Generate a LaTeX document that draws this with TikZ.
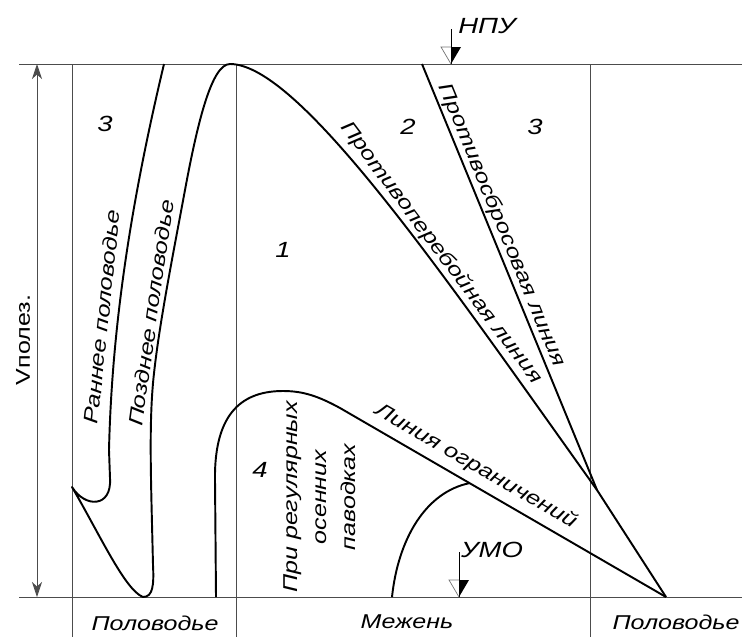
\documentclass[tikz,border=0pt]{standalone}
\usepackage{fontspec}
\setmainfont{Liberation Sans}[FakeStretch=1.25]
\usepackage{tikz}
\usetikzlibrary{arrows.meta}
\tikzset{
  frameline/.style = {draw=black!70, line width=0.5pt},
  curveline/.style = {draw=black, line width=1.1pt, line join=round},
  txt/.style = {font=\fontsize{11.4}{16.4}\selectfont\itshape, inner sep=1pt},
  zone/.style = {font=\fontsize{12.5}{14}\selectfont\itshape},
  leveltxt/.style = {font=\fontsize{12.5}{14}\selectfont\itshape},
  dimarrow/.style = {{Stealth[length=3mm, width=2mm, inset=0.9mm]}-{Stealth[length=3mm, width=2mm, inset=0.9mm]},
    draw=black!70, line width=0.5pt},
  levelmark/.style = {draw=black!55, line width=0.4pt}
}
\begin{document}
\begin{tikzpicture}[x=0.2mm, y=-0.2mm]
  \useasboundingbox (0,0) rectangle (742,637);

  % Frame
  \draw[frameline] (19,64) -- (742,64) (19,597) -- (742,597);
  \foreach \xv in {72,236,590}
    \draw[frameline] (\xv,64) -- (\xv,637);

  % Points
  \coordinate (top)  at (230,64);
  \coordinate (join) at (597,490);
  \coordinate (foot) at (666,597);

  % Flood curves
  \draw[curveline] (164,64) .. controls (133,194) and (112,320) .. (109,450)
    -- (110,478) .. controls (112,508) and (85,508) .. (72,487)
    .. controls (100,535) and (125,590) .. (143,597)
    .. controls (153,597) and (154,585) .. (153,565)
    .. controls (151,480) and (149,430) .. (153,383)
    .. controls (158,330) and (172,260) .. (185,190)
    .. controls (198,120) and (212,64) .. (top)
    .. controls (300,64) and (447,280) ..
       node[txt, sloped, above, pos=0.62] (antibreak) {Противоперебойная линия} (join)
    -- (foot);
  \draw[curveline] (422,64) --
    node[txt, sloped, above, pos=0.39] (antidump) {Противосбросовая линия} (join);

  % Restriction line
  \draw[curveline] (216,597) -- (215,480) .. controls (214,410) and (245,391) .. (283,391)
    .. controls (303,391) and (318,396) .. (340,408)
    -- node[txt, sloped, above=3pt, pos=0.39] (limit) {Линия ограничений} (foot);
  \draw[curveline] (392,597) .. controls (398,540) and (425,492) .. (470,483);

  % Useful volume
  \draw[dimarrow] (37,597) -- (37,64);
  \node[txt, font=\fontsize{11.4}{13.5}\selectfont, rotate=90] (vol) at (23,340) {Vполез.};

  % Levels
  \foreach \mx/\my/\mtop in {451/64/29, 459/597/552} {
    \draw[black, line width=0.5pt] (\mx,\mtop) -- (\mx,\my);
    \fill (\mx,\my) -- (\mx+10,\my-17) -- (\mx,\my-17) -- cycle;
    \draw[levelmark] (\mx,\my) -- (\mx-10,\my-17) -- (\mx,\my-17);
  }
  \node[leveltxt] (npu) at (487,26) {НПУ};
  \node[leveltxt] (umo) at (492,550) {УМО};

  % Zones
  \node[zone] (zone3a) at (105,124) {3};
  \node[zone] (zone2)  at (408,127) {2};
  \node[zone] (zone3b) at (535,127) {3};
  \node[zone] (zone1)  at (283,250) {1};
  \node[zone] (zone4)  at (260,470) {4};

  % Curve labels
  \node[txt, rotate=84] (early) at (102,317) {Раннее половодье};
  \node[txt, rotate=82] (late)  at (151,313) {Позднее половодье};
  \node[txt, rotate=90, align=center] (autumn) at (320,497) {При регулярных\\осенних\\паводках};

  % Seasons
  \node[txt] (flood1)  at (155,623) {Половодье};
  \node[txt] (lowflow) at (407,622) {Межень};
  \node[txt] (flood2)  at (676,622) {Половодье};
\end{tikzpicture}
\end{document}
